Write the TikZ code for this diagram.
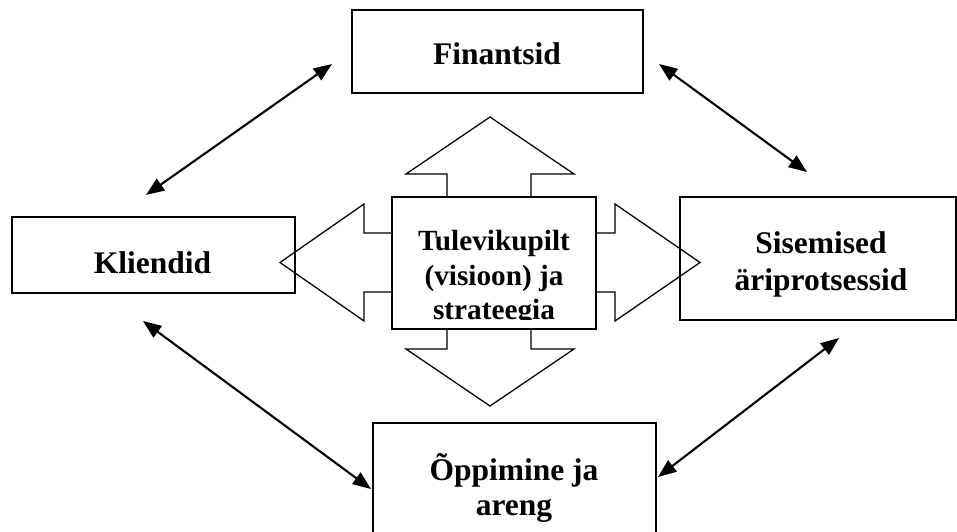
\documentclass[tikz,border=0pt]{standalone}
\usepackage{fontspec}
\setmainfont{Liberation Serif}
\usetikzlibrary{arrows.meta}
\begin{document}
\begin{tikzpicture}[x=0.025cm, y=-0.025cm,
    >={Triangle[length=13pt,width=10pt]},
    box/.style={draw, line width=1.4pt, inner sep=0pt},
    boxtext/.style={anchor=base, inner sep=0pt, font=\fontsize{22.4}{26}\selectfont\bfseries},
    visiontext/.style={anchor=base, inner sep=0pt, font=\fontsize{20.8}{24}\selectfont\bfseries},
    link/.style={<->, line width=1.5pt},
    bigarrow/.style={line width=0.9pt, line join=miter}]
    \useasboundingbox (0,0) rectangle (957,531);
    % the four perspectives
    \node [box, minimum width=7.275cm, minimum height=2.075cm] (finantsid) at (497.5,51.5) {};
    \node [box, minimum width=7.075cm, minimum height=1.9cm] (kliendid) at (153.5,255) {};
    \node [box, minimum width=6.9cm, minimum height=3.075cm] (sisemised) at (818,258.5) {};
    \node [box, minimum width=7.075cm, minimum height=3.3cm] (oppimine) at (514.5,489) {};
    \node [box, minimum width=5.1cm, minimum height=3.3cm] (visioon) at (494,263) {};
    \node [boxtext] (finantsidtxt) at (497,65) {Finantsid};
    \node [boxtext] (kliendidtxt) at (152.5,273) {Kliendid};
    \node [boxtext] (sisemisedtxt) at (821,253) {Sisemised};
    \node [boxtext] (aritxt) at (821,290) {äriprotsessid};
    \node [boxtext] (oppiminetxt) at (514,480) {Õppimine ja};
    \node [boxtext] (arengtxt) at (514,515) {areng};
    % centre text, cut off at the bottom of the box
    \begin{scope}
        \clip (393,198) rectangle (595,319.5);
        \node [visiontext] (tulevikutxt) at (494,250.5) {Tulevikupilt};
        \node [visiontext] (visioontxt) at (494,285) {(visioon) ja};
        \node [visiontext] (strateegiatxt) at (494,319.5) {strateegia};
    \end{scope}
    % block arrows out of the centre
    \draw [bigarrow] (447,197) -- (447,174) -- (406,174) -- (490,117) -- (574,174) -- (531,174) -- (531,197);
    \draw [bigarrow] (447,329) -- (447,349) -- (406,349) -- (490,406) -- (574,349) -- (531,349) -- (531,329);
    \draw [bigarrow] (392,233) -- (364,233) -- (364,204) -- (280,262.5) -- (364,321) -- (364,292) -- (392,292);
    \draw [bigarrow] (596,233) -- (615,233) -- (615,204) -- (700,262.5) -- (615,321) -- (615,292) -- (596,292);
    % links between the perspectives
    \draw [link] ([shift={(-7.5,-21)}]kliendid.north) -- ([shift={(-19,-30)}]finantsid.south west);
    \draw [link] ([shift={(15,-30)}]finantsid.south east) -- ([shift={(-11,-24)}]sisemised.north);
    \draw [link] ([shift={(-10.5,27)}]kliendid.south) -- ([shift={(-1,0)}]oppimine.west);
    \draw [link] ([shift={(21,17)}]sisemised.south) -- ([shift={(1,-12)}]oppimine.east);
\end{tikzpicture}
\end{document}
